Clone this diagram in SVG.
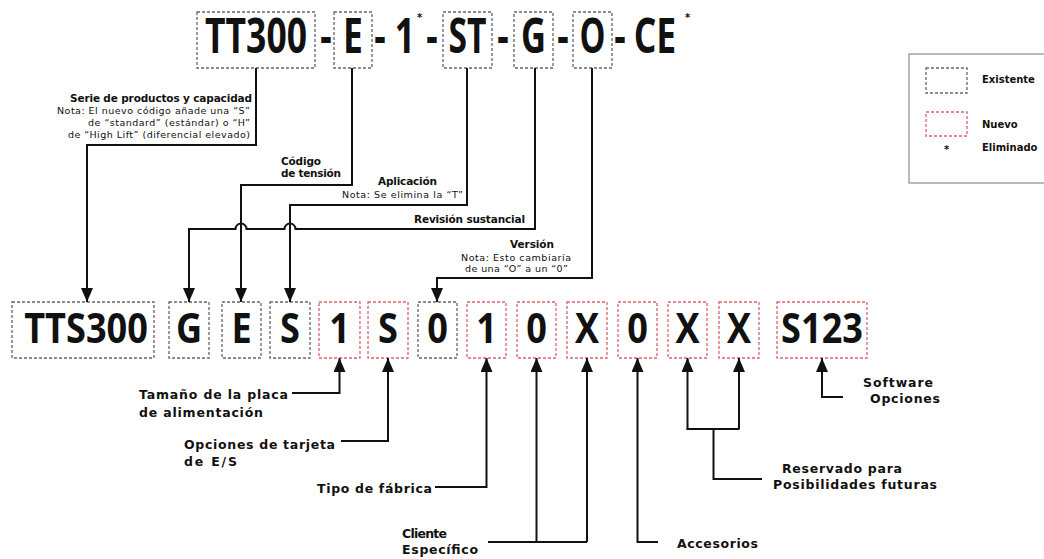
<svg xmlns="http://www.w3.org/2000/svg" width="1044" height="559" viewBox="0 0 1044 559">
<style>
.big{font-family:"Open Sans","Liberation Sans",sans-serif;font-weight:700;fill:#111;text-anchor:middle}
.t{font-size:48px}
.b{font-size:42px}
.lbl{font-family:"DejaVu Sans",Verdana,sans-serif;font-weight:bold;font-size:12.5px;fill:#111}
.tl{font-family:"DejaVu Sans",Verdana,sans-serif;font-weight:bold;font-size:10.5px;fill:#111}
.note{font-family:"DejaVu Sans",Verdana,sans-serif;font-size:9.5px;fill:#111}
.lg{font-family:"DejaVu Sans",Verdana,sans-serif;font-weight:bold;font-size:10px;fill:#111}
.bg{fill:none;stroke:#666;stroke-width:1.3;stroke-dasharray:3 2}
.br{fill:none;stroke:#e0606c;stroke-width:1.3;stroke-dasharray:3 2}
.conn{fill:none;stroke:#111;stroke-width:2}
</style>
<defs>
<marker id="ah" viewBox="0 0 14 12" markerWidth="14" markerHeight="12" refX="14" refY="6" orient="auto" markerUnits="userSpaceOnUse">
<path d="M0,0 L14,6 L0,12 z" fill="#111"/>
</marker>
</defs>
<rect width="1044" height="559" fill="#fff"/>

<!-- top code -->
<g id="top-TT300"><rect class="bg" x="197" y="12" width="118" height="56"/><text class="big t" transform="translate(256,53) scale(0.74,1)">TT300</text></g>
<g id="top-E"><rect class="bg" x="334" y="12" width="38" height="56"/><text class="big t" transform="translate(353,53) scale(0.74,1)">E</text></g>
<g id="top-1"><text class="big t" transform="translate(405,53) scale(0.74,1)">1</text><text class="lg" x="417" y="21">*</text></g>
<g id="top-ST"><rect class="bg" x="443" y="12" width="49" height="56"/><text class="big t" transform="translate(467.5,53) scale(0.7,1)">ST</text></g>
<g id="top-G"><rect class="bg" x="514" y="12" width="39" height="56"/><text class="big t" transform="translate(533.5,53) scale(0.72,1)">G</text></g>
<g id="top-O"><rect class="bg" x="573" y="12" width="39" height="56"/><text class="big t" transform="translate(592.5,53) scale(0.68,1)">O</text></g>
<g id="top-CE"><text class="big t" transform="translate(655,53) scale(0.74,1)">CE</text><text class="lg" x="685" y="21">*</text></g>
<g id="top-dashes">
<text class="big t" transform="translate(326,53) scale(0.74,1)">-</text>
<text class="big t" transform="translate(380,53) scale(0.74,1)">-</text>
<text class="big t" transform="translate(432,53) scale(0.74,1)">-</text>
<text class="big t" transform="translate(503,53) scale(0.74,1)">-</text>
<text class="big t" transform="translate(563,53) scale(0.74,1)">-</text>
<text class="big t" transform="translate(620,53) scale(0.74,1)">-</text>
</g>

<!-- bottom code -->
<g id="b-TTS300"><rect class="bg" x="12" y="302" width="142" height="56"/><text class="big b" transform="translate(86,343) scale(0.86,1)">TTS300</text></g>
<g id="b-G"><rect class="bg" x="169" y="302" width="40" height="56"/><text class="big b" transform="translate(189,343) scale(0.86,1)">G</text></g>
<g id="b-E"><rect class="bg" x="222" y="302" width="39" height="56"/><text class="big b" transform="translate(241.5,343) scale(0.86,1)">E</text></g>
<g id="b-S1"><rect class="bg" x="270" y="302" width="40" height="56"/><text class="big b" transform="translate(290,343) scale(0.86,1)">S</text></g>
<g id="b-1a"><rect class="br" x="319" y="302" width="41" height="56"/><text class="big b" transform="translate(339.5,343) scale(0.86,1)">1</text></g>
<g id="b-S2"><rect class="br" x="368" y="302" width="40" height="56"/><text class="big b" transform="translate(388,343) scale(0.86,1)">S</text></g>
<g id="b-0a"><rect class="bg" x="418" y="302" width="39" height="56"/><text class="big b" transform="translate(437.5,343) scale(0.86,1)">0</text></g>
<g id="b-1b"><rect class="br" x="467" y="302" width="39" height="56"/><text class="big b" transform="translate(486.5,343) scale(0.86,1)">1</text></g>
<g id="b-0b"><rect class="br" x="517" y="302" width="39" height="56"/><text class="big b" transform="translate(536.5,343) scale(0.86,1)">0</text></g>
<g id="b-Xa"><rect class="br" x="567" y="302" width="40" height="56"/><text class="big b" transform="translate(587,343) scale(0.86,1)">X</text></g>
<g id="b-0c"><rect class="br" x="618" y="302" width="39" height="56"/><text class="big b" transform="translate(637.5,343) scale(0.86,1)">0</text></g>
<g id="b-Xb"><rect class="br" x="668" y="302" width="39" height="56"/><text class="big b" transform="translate(687.5,343) scale(0.86,1)">X</text></g>
<g id="b-Xc"><rect class="br" x="719" y="302" width="40" height="56"/><text class="big b" transform="translate(739,343) scale(0.86,1)">X</text></g>
<g id="b-S123"><rect class="br" x="777" y="302" width="90" height="56"/><text class="big b" transform="translate(822,343) scale(0.86,1)">S123</text></g>

<!-- connectors -->
<g id="connectors">
<path class="conn" marker-end="url(#ah)" d="M256,68 V145 H87 V302"/>
<path class="conn" marker-end="url(#ah)" d="M352,68 V185 H241 V302"/>
<path class="conn" marker-end="url(#ah)" d="M467,68 V205 H290 V302"/>
<path class="conn" marker-end="url(#ah)" d="M535,68 V229 H295.5 A5.5,5.5 0 0 0 284.5,229 H246.5 A5.5,5.5 0 0 0 235.5,229 H189 V302"/>
<path class="conn" marker-end="url(#ah)" d="M592,68 V278 H437 V302"/>
<path class="conn" marker-end="url(#ah)" d="M292,393 H339.5 V358"/>
<path class="conn" marker-end="url(#ah)" d="M341,441 H388 V358"/>
<path class="conn" marker-end="url(#ah)" d="M435,487 H486.5 V358"/>
<path class="conn" d="M488,542 H587"/>
<path class="conn" marker-end="url(#ah)" d="M536.5,542 V358"/>
<path class="conn" marker-end="url(#ah)" d="M587,542 V358"/>
<path class="conn" marker-end="url(#ah)" d="M658,542 H637.5 V358"/>
<path class="conn" d="M762,479 H713.5 V429"/>
<path class="conn" d="M686.5,429 H739.5"/>
<path class="conn" marker-end="url(#ah)" d="M687.5,429 V358"/>
<path class="conn" marker-end="url(#ah)" d="M739,429 V358"/>
<path class="conn" marker-end="url(#ah)" d="M843,397 H822 V358"/>
</g>

<!-- top labels -->
<g id="lbl-serie">
<text class="tl" x="70" y="102" textLength="182">Serie de productos y capacidad</text>
<text class="note" x="57" y="114" textLength="193">Nota: El nuevo código añade una “S”</text>
<text class="note" x="88" y="126" textLength="162">de “standard” (estándar) o “H”</text>
<text class="note" x="68" y="138" textLength="182">de “High Lift” (diferencial elevado)</text>
</g>
<g id="lbl-codigo">
<text class="tl" x="281" y="165" textLength="40">Código</text>
<text class="tl" x="281" y="177" textLength="60">de tensión</text>
</g>
<g id="lbl-aplicacion">
<text class="tl" x="378" y="185" textLength="59">Aplicación</text>
<text class="note" x="342" y="198" textLength="121">Nota: Se elimina la “T”</text>
</g>
<g id="lbl-revision"><text class="tl" x="414" y="223" textLength="111">Revisión sustancial</text></g>
<g id="lbl-version">
<text class="tl" x="510" y="248" textLength="44">Versión</text>
<text class="note" x="461" y="261" textLength="110">Nota: Esto cambiaría</text>
<text class="note" x="465" y="272" textLength="103">de una “O” a un “0”</text>
</g>

<!-- bottom labels -->
<g id="lbl-tamano">
<text class="lbl" x="139" y="399" textLength="149">Tamaño de la placa</text>
<text class="lbl" x="139" y="417" textLength="124">de alimentación</text>
</g>
<g id="lbl-opciones">
<text class="lbl" x="184" y="449" textLength="151">Opciones de tarjeta</text>
<text class="lbl" x="184" y="466" textLength="53">de E/S</text>
</g>
<g id="lbl-tipo"><text class="lbl" x="317" y="493" textLength="115">Tipo de fábrica</text></g>
<g id="lbl-cliente">
<text class="lbl" x="402" y="538" textLength="45">Cliente</text>
<text class="lbl" x="402" y="554" textLength="76">Específico</text>
</g>
<g id="lbl-accesorios"><text class="lbl" x="677" y="548" textLength="81">Accesorios</text></g>
<g id="lbl-reservado">
<text class="lbl" x="782" y="473" textLength="120">Reservado para</text>
<text class="lbl" x="773" y="489" textLength="164">Posibilidades futuras</text>
</g>
<g id="lbl-software">
<text class="lbl" x="863" y="387" textLength="70">Software</text>
<text class="lbl" x="870" y="403" textLength="70">Opciones</text>
</g>

<!-- legend -->
<g id="legend">
<rect x="909" y="54" width="145" height="129" fill="#fff" stroke="#777" stroke-width="1"/>
<rect class="bg" x="926" y="68" width="41" height="25"/>
<text class="lg" x="982" y="83">Existente</text>
<rect class="br" x="926" y="112" width="41" height="24"/>
<text class="lg" x="982" y="128">Nuevo</text>
<text class="lg" x="944" y="153">*</text>
<text class="lg" x="982" y="151">Eliminado</text>
</g>
</svg>
